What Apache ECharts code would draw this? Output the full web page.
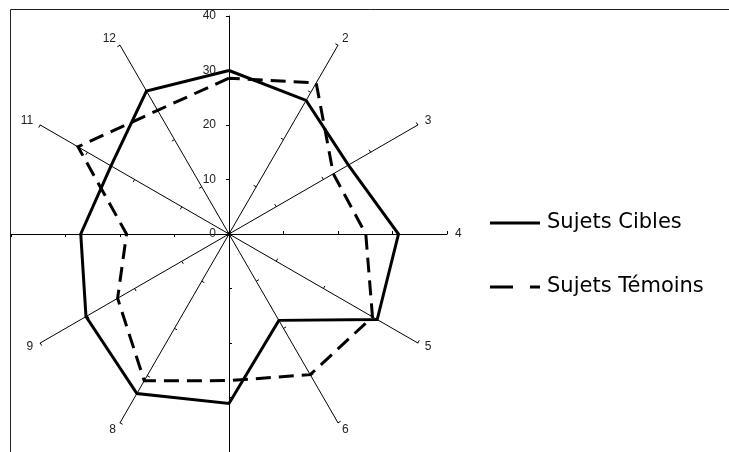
<!DOCTYPE html>
<html>
<head>
<meta charset="utf-8">
<script src="https://cdn.jsdelivr.net/npm/echarts@6/dist/echarts.min.js"></script>
<style>
html,body{margin:0;padding:0;background:#fff;}
#main{width:729px;height:452px;}
</style>
</head>
<body>
<div id="main"></div>
<script>
// Categories (axes 1..12, clockwise from top); labels 1, 7 and 10 are not shown in the reference
const categories = ['', '2', '3', '4', '5', '6', '', '8', '9', '', '11', '12'];
const axisMax = 40;
const seriesNames = ['Sujets Cibles', 'Sujets Témoins'];
const cibles  = [30, 28.3, 25.3, 31.1, 31.4, 18.3, 31.1, 33.8, 30.3, 27.2, 25, 30.3];
const temoins = [28.6, 32, 22.1, 25.1, 30.4, 29.8, 26.9, 31.1, 23.6, 18.8, 32, 26.2];

// ECharts lays indicators counter-clockwise: reorder so axis 2 lands on the right
function ccw(arr) { return [arr[0]].concat(arr.slice(1).reverse()); }
const font = 'Liberation Sans, Arial, sans-serif';

const indicator = ccw(categories).map((c, i) => {
  const o = { name: c, min: 0, max: axisMax };
  if (i === 0) {
    o.axisLabel = { show: true, color: '#222', fontSize: 12, fontFamily: font, margin: 13, showMinLabel: true };
  }
  return o;
});

const chart = echarts.init(document.getElementById('main'), null, { renderer: 'canvas' });
chart.setOption({
  backgroundColor: '#fff',
  animation: false,
  radar: {
    center: [229, 234],
    radius: 218,
    startAngle: 90,
    shape: 'polygon',
    splitNumber: 4,
    indicator: indicator,
    nameGap: 8,
    axisName: { color: '#222', fontSize: 12, fontFamily: font },
    axisLine: { lineStyle: { color: '#000', width: 1 } },
    axisTick: { show: true, length: 3, lineStyle: { color: '#000', width: 1 } },
    axisLabel: { show: false },
    splitLine: { show: false },
    splitArea: { show: false }
  },
  series: [{
    type: 'radar',
    symbol: 'none',
    data: [
      { name: seriesNames[0], value: ccw(cibles),
        lineStyle: { color: '#000', width: 3, type: 'solid', join: 'miter' } },
      { name: seriesNames[1], value: ccw(temoins),
        lineStyle: { color: '#000', width: 3, type: [15, 8], join: 'miter' } }
    ]
  }],
  graphic: [
    { type: 'rect', shape: { x: 10.5, y: 9.5, width: 740, height: 460 },
      style: { fill: 'none', stroke: '#222', lineWidth: 1 }, silent: true, z: -1 },
    { type: 'line', shape: { x1: 490, y1: 223, x2: 540, y2: 223 },
      style: { stroke: '#000', lineWidth: 3 } },
    { type: 'text', x: 547, y: 223,
      style: { text: seriesNames[0], fill: '#000', font: '21px "DejaVu Sans"', textVerticalAlign: 'middle' } },
    { type: 'line', shape: { x1: 490, y1: 287, x2: 540, y2: 287 },
      style: { stroke: '#000', lineWidth: 3, lineDash: [23, 17] } },
    { type: 'text', x: 547, y: 287,
      style: { text: seriesNames[1], fill: '#000', font: '21px "DejaVu Sans"', textVerticalAlign: 'middle' } }
  ]
});
</script>
</body>
</html>
